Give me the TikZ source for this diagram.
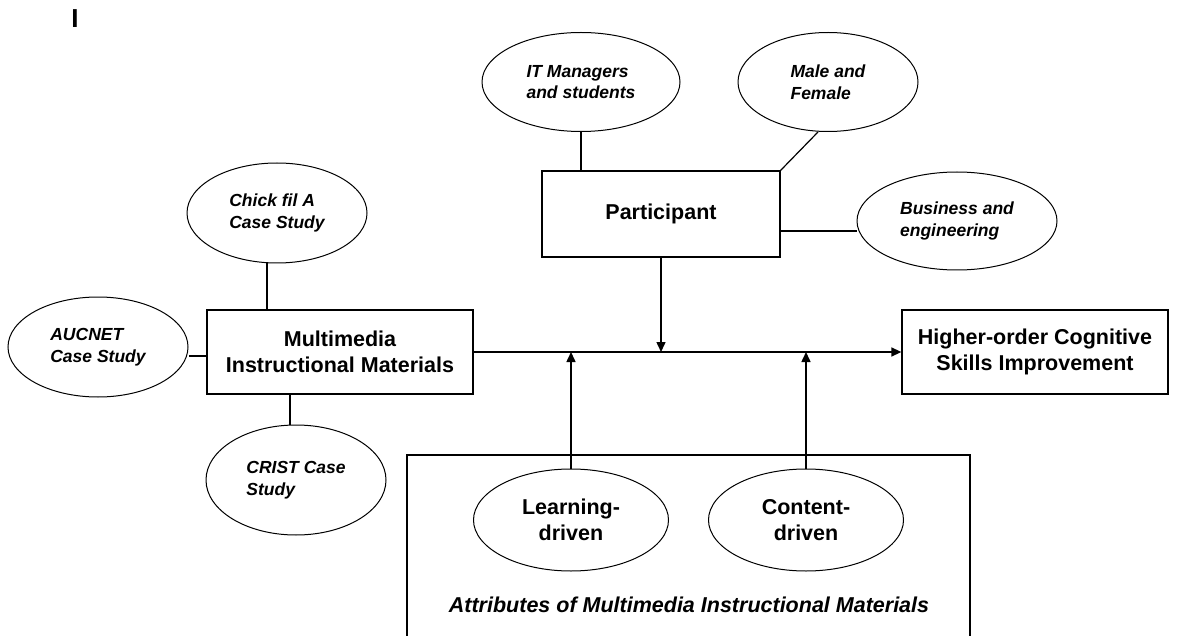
\documentclass[tikz,border=0pt]{standalone}
\usepackage{fontspec}
\setmainfont{Liberation Sans}
\usetikzlibrary{shapes.geometric, positioning, arrows.meta}

\begin{document}
\begin{tikzpicture}[
    x=1pt, y=-1pt,
    box/.style={
      rectangle, draw, line width=1.3pt,
      minimum width=266pt, minimum height=84pt,
      align=center, font=\fontsize{21.5}{26}\selectfont\bfseries
    },
    topic/.style={
      ellipse, draw, line width=1pt, inner sep=0pt,
      minimum width=180pt, minimum height=100pt,
      align=left, font=\fontsize{17.5}{21.5}\selectfont\bfseries\itshape
    },
    attrib/.style={
      ellipse, draw, line width=1pt, inner sep=0pt,
      minimum width=195pt, minimum height=102pt,
      align=center, font=\fontsize{21.5}{26}\selectfont\bfseries
    },
    link/.style={draw, line width=1.2pt},
    flow/.style={draw, line width=1.5pt, -{Triangle[length=10pt,width=9pt]}}
  ]
    \useasboundingbox (0,0) rectangle (1180,636);
    \clip (0,0) rectangle (1180,636);
    \fill[white] (0,0) rectangle (1180,636);

    \node[anchor=base, inner sep=0pt, font=\fontsize{26}{26}\selectfont\bfseries] (mark) at (75,28) {I};

    %% Main chain
    \node[box] (mim) at (340,352) {Multimedia\\Instructional Materials};
    \node[box] (hoc) at (1035,352) {Higher-order Cognitive\\Skills Improvement};
    \node[box, minimum width=238pt, minimum height=86pt] (part) at (661,214) {Participant};

    %% Case studies
    \node[topic] (chick) at (277,213) {Chick fil A\\Case Study};
    \node[topic] (auc) at (98,347) {AUCNET\\Case Study};
    \node[topic, minimum height=110pt] (crist) at (296,480) {CRIST Case\\Study};

    %% Participant details
    \node[topic, minimum width=198pt, minimum height=99pt] (it) at (581,82) {IT Managers\\and students};
    \node[topic, minimum height=99pt] (male) at (828,82) {Male and\\Female};
    \node[topic, minimum width=200pt, minimum height=98pt] (bus) at (957,221) {Business and\\engineering};

    %% Attributes
    \node[rectangle, draw, line width=1.3pt, minimum width=563pt, minimum height=260pt] (attrbox) at (688.5,585) {};
    \node[attrib] (learn) at (571,520) {Learning-\\driven};
    \node[attrib] (cont) at (806,520) {Content-\\driven};
    \node[font=\fontsize{21.5}{26}\selectfont\bfseries\itshape] (attr) at (689,605) {Attributes of Multimedia Instructional Materials};

    %% Plain links
    \draw[link] ([xshift=-10pt]chick.south) -- ([xshift=-10pt]chick.south |- mim.north);
    \draw[link] ([yshift=-4pt]mim.west) -- ([yshift=-4pt]mim.west -| auc.east);
    \draw[link] ([xshift=-50pt]mim.south) -- ([xshift=-50pt]mim.south |- crist.north);
    \draw[link] (it.south) -- (it.south |- part.north);
    \draw[link] ([xshift=-10pt]male.south) -- (part.north east);
    \draw[link] ([yshift=-17pt]part.east) -- ([yshift=-17pt]part.east -| bus.west);

    %% Arrows
    \draw[flow] (mim.east) -- (hoc.west);
    \draw[flow] (part.south) -- (part.south |- mim.east);
    \draw[flow] (learn.north) -- (learn.north |- mim.east);
    \draw[flow] (cont.north) -- (cont.north |- mim.east);
\end{tikzpicture}
\end{document}
